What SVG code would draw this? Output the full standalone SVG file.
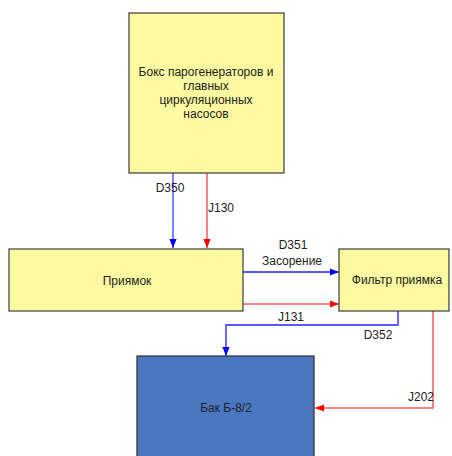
<svg xmlns="http://www.w3.org/2000/svg" width="452" height="456" viewBox="0 0 452 456">
  <style>
    .box { fill: #fcf9a0; stroke: #3a3a3a; stroke-width: 1.2; }
    .tank { fill: #4a77c0; stroke: #2e2e2e; stroke-width: 1.2; }
    .lbl { font-family: "Liberation Sans", Arial, sans-serif; font-size: 12px; fill: #222; text-anchor: middle; }
    .blue { fill: none; stroke: #0000ff; stroke-width: 1; }
    .lblue { fill: none; stroke: #5a5aff; stroke-width: 1.8; }
    .red { fill: none; stroke: #ff5a5a; stroke-width: 1.5; }
  </style>
  <defs>
    <marker id="ab" viewBox="0 0 10 10" refX="10" refY="5" markerWidth="9" markerHeight="9" markerUnits="userSpaceOnUse" orient="auto">
      <path d="M0,1 L10,5 L0,9 Z" fill="#0000ff"/>
    </marker>
    <marker id="ar" viewBox="0 0 10 10" refX="10" refY="5" markerWidth="9" markerHeight="9" markerUnits="userSpaceOnUse" orient="auto">
      <path d="M0,1 L10,5 L0,9 Z" fill="#ff0000"/>
    </marker>
  </defs>

  <g id="connectors">
    <path class="blue" d="M173,173 V248" marker-end="url(#ab)"/>
    <path class="red" d="M207,173 V248" marker-end="url(#ar)"/>
    <path class="lblue" d="M243,272 H339" marker-end="url(#ab)"/>
    <path class="red" d="M243,304 H339" marker-end="url(#ar)"/>
    <path class="lblue" d="M398,311 V325 H226 V356" marker-end="url(#ab)"/>
    <path class="red" d="M433,311 V408 H315" marker-end="url(#ar)"/>
    <text class="lbl" x="170" y="192">D350</text>
    <text class="lbl" x="221" y="212">J130</text>
    <text class="lbl" x="293" y="249">D351</text>
    <text class="lbl" x="292" y="265">Засорение</text>
    <text class="lbl" x="291" y="321">J131</text>
    <text class="lbl" x="378" y="339">D352</text>
    <text class="lbl" x="421" y="401">J202</text>
  </g>

  <g id="box-sg">
    <rect class="box" x="129" y="13" width="155" height="160"/>
    <text class="lbl" x="206" y="76">Бокс парогенераторов и</text>
    <text class="lbl" x="206" y="90">главных</text>
    <text class="lbl" x="206" y="104">циркуляционных</text>
    <text class="lbl" x="206" y="118">насосов</text>
  </g>

  <g id="sump">
    <rect class="box" x="9" y="249" width="234" height="62"/>
    <text class="lbl" x="127" y="285">Приямок</text>
  </g>

  <g id="sump-filter">
    <rect class="box" x="339" y="249" width="110" height="62"/>
    <text class="lbl" x="397" y="284">Фильтр приямка</text>
  </g>

  <g id="tank">
    <rect class="tank" x="137" y="356" width="177" height="110"/>
    <text class="lbl" x="226" y="412">Бак Б-8/2</text>
  </g>
</svg>
